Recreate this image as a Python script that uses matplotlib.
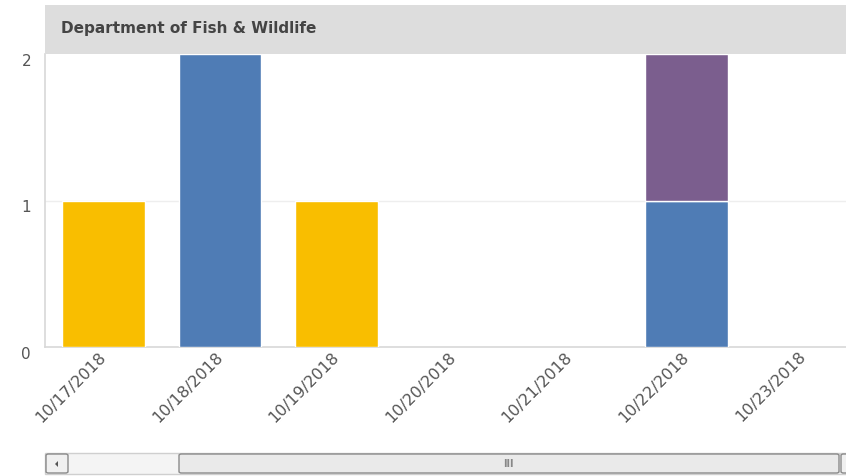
import numpy as np
import matplotlib
matplotlib.use("Agg")
from matplotlib import pyplot as plt
from matplotlib import transforms
from matplotlib.patches import Rectangle, FancyBboxPatch, Polygon

dates = ["10/17/2018", "10/18/2018", "10/19/2018", "10/20/2018",
         "10/21/2018", "10/22/2018", "10/23/2018"]
series_names = ["Yellow", "Blue", "Purple"]
yellow_vals = [1, 0, 1, 0, 0, 0, 0]
blue_vals = [0, 2, 0, 0, 0, 1, 0]
purple_vals = [0, 0, 0, 0, 0, 1, 0]
colors = ["#F9BE00", "#4F7CB5", "#7B5E8E"]
title = "Department of Fish & Wildlife"

W, H = 846, 476
fig = plt.figure(figsize=(W / 100, H / 100), dpi=100)
fig.patch.set_facecolor("white")

def fx(px):
    return px / W

def fy(py):
    return 1 - py / H

ax = fig.add_axes([fx(45), fy(347), 1 - fx(45), fy(54) - fy(347)])

x = np.arange(len(dates))
bottom = np.zeros(len(dates))
for vals, col in zip([yellow_vals, blue_vals, purple_vals], colors):
    vals = np.array(vals, dtype=float)
    keep = vals > 0  # skip empty segments so no white edge sits on the axis
    ax.bar(x[keep], vals[keep], width=0.71, bottom=bottom[keep], color=col,
           edgecolor="white", linewidth=1, zorder=3)
    bottom += vals

ax.set_xlim(-0.5, 6.37)
ax.set_ylim(0, 2)
ax.set_yticks([0, 1, 2])
ax.set_yticklabels(["0", "1", "2"])
ax.axhline(1, color="#EEEEEE", lw=1, zorder=1)

for s in ["top", "right"]:
    ax.spines[s].set_visible(False)
ax.spines["left"].set_color("#D8D8D8")
ax.spines["bottom"].set_color("#D8D8D8")
ax.spines["left"].set_linewidth(1.2)
ax.spines["bottom"].set_linewidth(1.2)

ax.tick_params(axis="y", length=0, pad=10, labelsize=11, labelcolor="#555555")
for lab in ax.get_yticklabels():
    lab.set_va("top")
ax.set_xticks(x)
ax.set_xticklabels(dates, rotation=45, ha="right", rotation_mode="anchor",
                   fontsize=11.5, color="#555555")
ax.tick_params(axis="x", length=0, pad=3)
shift = transforms.ScaledTranslation(-5 / 100, 2 / 100, fig.dpi_scale_trans)
for lab in ax.get_xticklabels():
    lab.set_transform(lab.get_transform() + shift)

# header band
fig.patches.append(Rectangle((fx(45), fy(54)), 1 - fx(45), fy(5) - fy(54),
                             transform=fig.transFigure, facecolor="#DDDDDD",
                             edgecolor="none"))
fig.text(fx(61), fy(29), title, fontsize=11, fontweight="bold",
         color="#444444", va="center", ha="left")

# scrollbar
fig.patches.append(Rectangle((fx(45), fy(474)), 1 - fx(45), fy(453) - fy(474),
                             transform=fig.transFigure, facecolor="#F4F4F4",
                             edgecolor="#CFCFCF", lw=1))
fig.patches.append(FancyBboxPatch((fx(46), fy(473)), fx(22), fy(454) - fy(473),
                                  boxstyle="round,pad=0,rounding_size=0.003",
                                  transform=fig.transFigure, facecolor="#F0F0F0",
                                  edgecolor="#8A8A8A", lw=1))
fig.patches.append(Polygon([(fx(55), fy(464)), (fx(58), fy(461)), (fx(58), fy(467))],
                           closed=True, transform=fig.transFigure,
                           facecolor="#555555", edgecolor="none"))
fig.patches.append(FancyBboxPatch((fx(179), fy(473)), fx(839 - 179), fy(454) - fy(473),
                                  boxstyle="round,pad=0,rounding_size=0.003",
                                  transform=fig.transFigure, facecolor="#EAEAEA",
                                  edgecolor="#8A8A8A", lw=1))
fig.patches.append(FancyBboxPatch((fx(841), fy(473)), fx(20), fy(454) - fy(473),
                                  boxstyle="round,pad=0,rounding_size=0.003",
                                  transform=fig.transFigure, facecolor="#F0F0F0",
                                  edgecolor="#8A8A8A", lw=1))
fig.text(fx(508), fy(464), "III", fontsize=7, color="#888888",
         ha="center", va="center", fontweight="bold")

fig.savefig("out.png", dpi=100)
